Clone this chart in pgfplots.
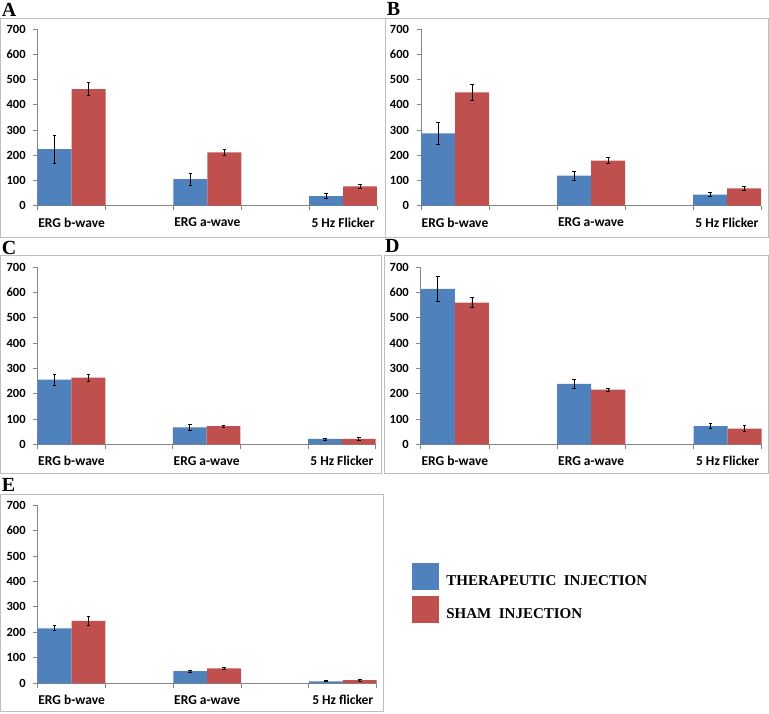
\documentclass[border=0pt]{standalone}
\usepackage{pgfplots}
\pgfplotsset{compat=1.18}
\usepackage{fontspec}
\setmainfont{Liberation Serif}
\newfontfamily\carlito{Carlito}
\definecolor{tblue}{HTML}{4F81BD}
\definecolor{tred}{HTML}{C0504D}
\definecolor{axgray}{HTML}{868686}
\definecolor{frgray}{HTML}{BFBFBF}
\pgfplotsset{
  erg/.style={
    scale only axis,
    anchor=south west,
    xmin=0, xmax=5, ymin=0, ymax=700,
    axis x line*=bottom, axis y line*=left,
    axis line style={draw=axgray, line width=0.8pt, -},
    xtick={0,1,2,3,4,5}, xticklabels={},
    ytick={0,100,...,700},
    tick align=outside,
    major tick length=4.5pt,
    tick style={draw=axgray, line width=0.8pt},
    /pgf/number format/assume math mode=true,
    tick label style={font=\carlito\bfseries\fontsize{12.5}{14}\selectfont, text=black},
    yticklabel style={xshift=-4pt},
    extra x ticks={0.5,2.5,4.5},
    extra x tick style={major tick length=0pt, xticklabel style={font=\carlito\bfseries\fontsize{13.5}{15}\selectfont, yshift=-8.5pt}},
    clip=false,
  },
  tbar/.style={ybar, bar shift=0pt, bar width=0.5, fill=tblue, draw=none,
    error bars/.cd, y dir=both, y explicit,
    error bar style={black, line width=0.7pt},
    error mark options={black, line width=0.7pt, mark size=1.8pt, rotate=90},
    /pgfplots/.cd},
  sbar/.style={ybar, bar shift=0pt, bar width=0.5, fill=tred, draw=none,
    error bars/.cd, y dir=both, y explicit,
    error bar style={black, line width=0.7pt},
    error mark options={black, line width=0.7pt, mark size=1.8pt, rotate=90},
    /pgfplots/.cd},
}
\begin{document}
\begin{tikzpicture}
\useasboundingbox (0pt,0pt) rectangle (769pt,713pt);
% frames
\draw[frgray, line width=0.8pt] (0.7pt,476pt) rectangle (385pt,694.5pt);
\draw[frgray, line width=0.8pt] (385pt,476pt) rectangle (768pt,694.5pt);
\draw[frgray, line width=0.8pt] (0.7pt,240pt) rectangle (381pt,457.3pt);
\draw[frgray, line width=0.8pt] (384pt,240pt) rectangle (768pt,457.3pt);
\draw[frgray, line width=0.8pt] (0.7pt,2pt) rectangle (383pt,219pt);
% panel letters
\node[anchor=base west, inner sep=0pt, font=\bfseries\fontsize{20}{22}\selectfont] at (1.7pt,696.3pt) {A};
\node[anchor=base west, inner sep=0pt, font=\bfseries\fontsize{20}{22}\selectfont] at (386.7pt,697pt) {B};
\node[anchor=base west, inner sep=0pt, font=\bfseries\fontsize{20}{22}\selectfont] at (1.7pt,458pt) {C};
\node[anchor=base west, inner sep=0pt, font=\bfseries\fontsize{20}{22}\selectfont] at (385pt,460pt) {D};
\node[anchor=base west, inner sep=0pt, font=\bfseries\fontsize{20}{22}\selectfont] at (1.7pt,221pt) {E};

% A
\begin{axis}[erg, at={(37.7pt,507.3pt)}, width=339.3pt, height=176.4pt,
  extra x tick labels={ERG b-wave, ERG a-wave, 5 Hz Flicker}]
\addplot[tbar] coordinates {(0.25,224) +- (0,56) (2.25,105) +- (0,24) (4.25,38) +- (0,10)};
\addplot[sbar] coordinates {(0.75,463) +- (0,25) (2.75,212) +- (0,13) (4.75,77) +- (0,8)};
\end{axis}
% B
\begin{axis}[erg, at={(421pt,507.3pt)}, width=340pt, height=176.4pt,
  extra x tick labels={ERG b-wave, ERG a-wave, 5 Hz Flicker}]
\addplot[tbar] coordinates {(0.25,287) +- (0,44) (2.25,119) +- (0,18) (4.25,44) +- (0,7)};
\addplot[sbar] coordinates {(0.75,450) +- (0,30) (2.75,179) +- (0,12) (4.75,69) +- (0,8)};
\end{axis}
% C
\begin{axis}[erg, at={(37.7pt,268.7pt)}, width=338pt, height=177pt,
  extra x tick labels={ERG b-wave, ERG a-wave, 5 Hz Flicker}]
\addplot[tbar] coordinates {(0.25,256) +- (0,21) (2.25,67) +- (0,10) (4.25,21) +- (0,4)};
\addplot[sbar] coordinates {(0.75,264) +- (0,14) (2.75,72) +- (0,3) (4.75,21) +- (0,6)};
\end{axis}
% D
\begin{axis}[erg, at={(420.7pt,268.7pt)}, width=341pt, height=177pt,
  extra x tick labels={ERG b-wave, ERG a-wave, 5 Hz Flicker}]
\addplot[tbar] coordinates {(0.25,615) +- (0,51) (2.25,239) +- (0,18) (4.25,72) +- (0,9)};
\addplot[sbar] coordinates {(0.75,560) +- (0,20) (2.75,216) +- (0,6) (4.75,62) +- (0,12)};
\end{axis}
% E
\begin{axis}[erg, at={(37.7pt,29.7pt)}, width=339pt, height=178.3pt,
  extra x tick labels={ERG b-wave, ERG a-wave, 5 Hz flicker},
  legend style={at={(1.105,0.673)}, anchor=north west, draw=none, fill=none,
    inner sep=0pt, outer sep=0pt, row sep=7pt, column sep=6pt,
    font=\bfseries\fontsize{15}{17}\selectfont, cells={anchor=west}},
  legend cell align=left]
\addlegendimage{legend image code/.code={\fill[tblue] (0pt,-7.85pt) rectangle (25.7pt,17.85pt);}}
\addlegendentry{THERAPEUTIC\ \ INJECTION}
\addlegendimage{legend image code/.code={\fill[tred] (0pt,-7.85pt) rectangle (25.7pt,17.85pt);}}
\addlegendentry{SHAM\ \ INJECTION}
\addplot[forget plot, tbar] coordinates {(0.25,216) +- (0,10) (2.25,48) +- (0,4) (4.25,8) +- (0,2)};
\addplot[forget plot, sbar] coordinates {(0.75,245) +- (0,18) (2.75,59) +- (0,5) (4.75,12) +- (0,3)};
\end{axis}
\end{tikzpicture}
\end{document}
